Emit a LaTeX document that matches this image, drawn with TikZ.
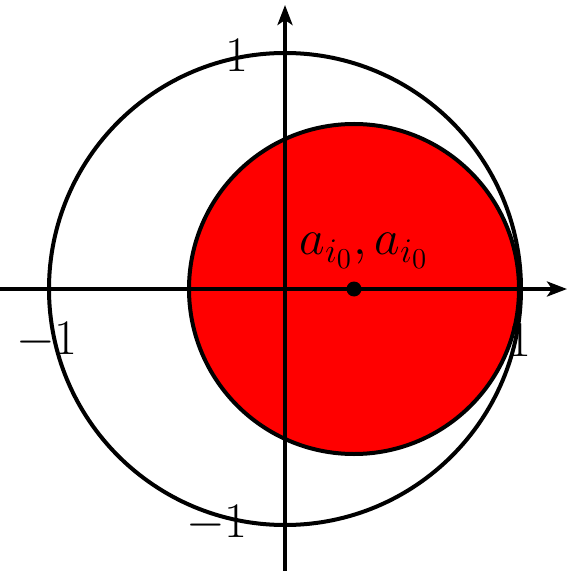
\documentclass[tikz,border=0pt]{standalone}
\usetikzlibrary{arrows.meta}
\begin{document}
\begin{tikzpicture}[x=0.5pt,y=-0.5pt,
  lbl/.style={inner sep=0pt, font=\fontsize{25}{30}\selectfont},
  curve/.style={line width=2pt},
  axis/.style={line width=1.9pt,-{Stealth[length=10pt,width=7.5pt,inset=2.5pt]}}]
\useasboundingbox (0,0) rectangle (571,571);
\coordinate (O) at (285,289);
\coordinate (C) at (354,289);
\filldraw[curve, fill=red] (C) circle[radius=165];
\draw[curve] (O) circle[radius=236];
\coordinate (xl) at (0,289);
\coordinate (xr) at (567,289);
\coordinate (yb) at (285,571);
\coordinate (yt) at (285,5);
\draw[axis] (xl) -- (xr);
\draw[axis] (yb) -- (yt);
\node (P) at (C) [circle, fill, inner sep=0pt, minimum size=7.5pt] {};
\node[lbl, font=\fontsize{26.5}{31}\selectfont] (lp) at (364,251) {$a_{i_0},a_{i_0}$};
\node[lbl] (t1) at (237,55) {$1$};
\node[lbl] (l1) at (47,341) {$-1$};
\node[lbl] (r1) at (520,340) {$1$};
\node[lbl] (b1) at (217,524) {$-1$};
\end{tikzpicture}
\end{document}
